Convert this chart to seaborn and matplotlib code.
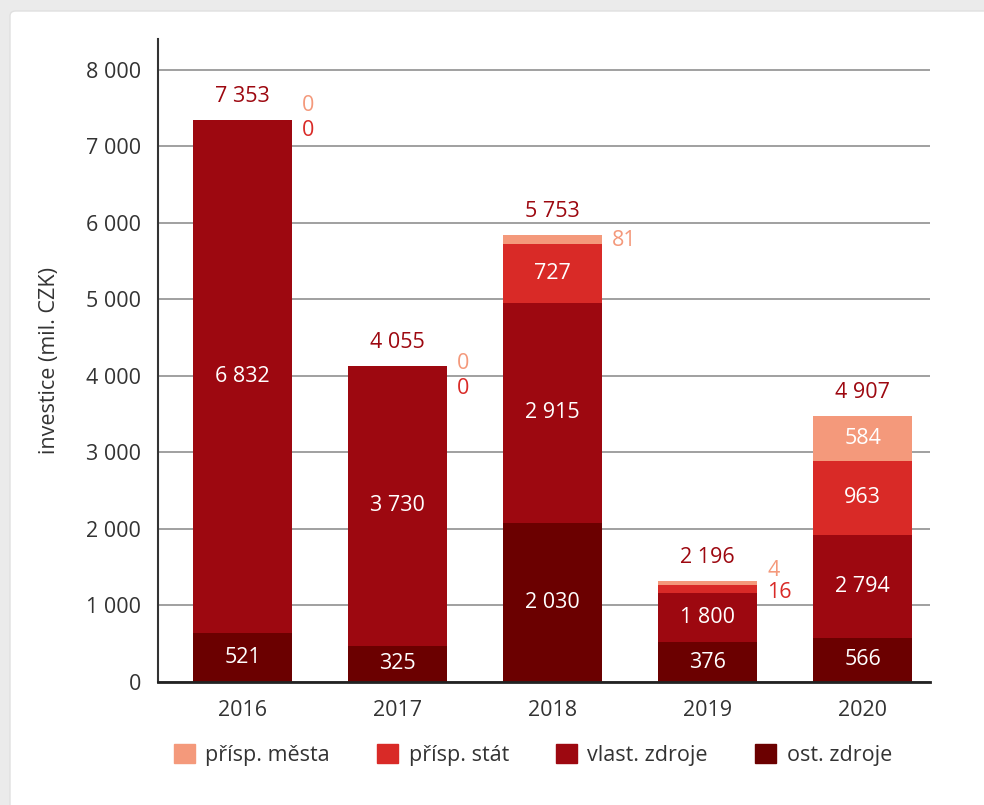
import matplotlib as mpl
mpl.use('Agg')
import matplotlib.pyplot as plt
import matplotlib.patches as mpatches
import seaborn as sns
import pandas as pd

sns.set_style('white')
mpl.rcParams['font.family'] = ['Open Sans', 'DejaVu Sans']

years = ['2016', '2017', '2018', '2019', '2020']
# bar segment heights as drawn in the chart
ost_h = [637, 472, 2079, 520, 576]
vlast_h = [6703, 3655, 2878, 642, 1345]
stat_h = [0, 0, 763, 104, 970]
mesta_h = [0, 0, 118, 53, 580]
# values printed on the chart
ost_lab = [521, 325, 2030, 376, 566]
vlast_lab = [6832, 3730, 2915, 1800, 2794]
stat_lab = [0, 0, 727, 16, 963]
mesta_lab = [0, 0, 81, 4, 584]
total_lab = [7353, 4055, 5753, 2196, 4907]

series_names = ['přísp. města', 'přísp. stát', 'vlast. zdroje', 'ost. zdroje']
colors = {'přísp. města': '#F4997B', 'přísp. stát': '#D92A27',
          'vlast. zdroje': '#9D0810', 'ost. zdroje': '#6B0000'}

df = pd.DataFrame({'year': years, 'ost': ost_h, 'vlast': vlast_h,
                   'stat': stat_h, 'mesta': mesta_h})
df['c1'] = df['ost']
df['c2'] = df['c1'] + df['vlast']
df['c3'] = df['c2'] + df['stat']
df['c4'] = df['c3'] + df['mesta']

fig = plt.figure(figsize=(9.84, 8.05), dpi=100, facecolor='#EBEBEB')
card = mpatches.FancyBboxPatch((10 / 984, -0.05), 1.1, 1 - 11 / 805 + 0.05,
                               boxstyle='round,pad=0,rounding_size=0.006',
                               transform=fig.transFigure, facecolor='white',
                               edgecolor='#E0E0E0', linewidth=1, zorder=-5)
fig.patches.append(card)

ax = fig.add_axes([158 / 984, 1 - 682 / 805, (930 - 158) / 984, (682 - 39) / 805])
ax.set_facecolor('none')
ax.set_zorder(2)

bw = 0.64
# overlapping cumulative bars, tallest first
for col, name in zip(['c4', 'c3', 'c2', 'c1'], series_names):
    sns.barplot(data=df, x='year', y=col, color=colors[name], width=bw,
                saturation=1, ax=ax, zorder=3, linewidth=0, edgecolor='none')

ax.set_xlim(-0.545, 4.435)
ax.set_ylim(0, 8400)
ax.set_yticks(range(0, 8001, 1000))
ax.set_yticklabels([f'{v:,}'.replace(',', ' ') for v in range(0, 8001, 1000)])
ax.yaxis.grid(True, color='#A0A0A0', linewidth=1.4, zorder=0)
ax.set_axisbelow(True)
ax.tick_params(axis='both', length=0, labelsize=15.5, colors='#333333')
ax.tick_params(axis='y', pad=12)
ax.tick_params(axis='x', pad=13)
ax.set_xlabel('')
ax.set_ylabel('investice (mil. CZK)', fontsize=15.5, color='#333333', labelpad=19)
for s in ['top', 'right']:
    ax.spines[s].set_visible(False)
ax.spines['left'].set_color('#333333')
ax.spines['left'].set_linewidth(1.5)
ax.spines['bottom'].set_color('#222222')
ax.spines['bottom'].set_linewidth(2)
ax.spines['bottom'].set_zorder(5)

fs = 15.5
px = 0.72  # points per pixel
# vertical offsets (px) of labels placed beside the bar top: (města, stát)
side_dy = {0: (15, -10), 1: (3, -22), 2: (-5, None), 3: (11, -11)}

for i in range(len(years)):
    bottoms = [0, df['c1'][i], df['c2'][i], df['c3'][i]]
    heights = [ost_h[i], vlast_h[i], stat_h[i], mesta_h[i]]
    labels = [ost_lab[i], vlast_lab[i], stat_lab[i], mesta_lab[i]]
    top = df['c4'][i]
    for j, (b, h, lab) in enumerate(zip(bottoms, heights, labels)):
        if h >= 300:
            ax.text(i, b + h / 2, f'{lab:,}'.replace(',', ' '), ha='center',
                    va='center', color='white', fontsize=fs, zorder=6)
    ax.annotate(f'{total_lab[i]:,}'.replace(',', ' '), (i, top),
                xytext=(0, 24 * px), textcoords='offset points', ha='center',
                va='center', color='#9D0810', fontsize=fs)
    if i in side_dy:
        dm, ds = side_dy[i]
        if mesta_h[i] < 300 and dm is not None:
            ax.annotate(f'{mesta_lab[i]}', (i + bw / 2, top),
                        xytext=(10 * px, dm * px), textcoords='offset points',
                        ha='left', va='center', color=colors['přísp. města'],
                        fontsize=fs)
        if stat_h[i] < 300 and ds is not None:
            ax.annotate(f'{stat_lab[i]}', (i + bw / 2, top),
                        xytext=(10 * px, ds * px), textcoords='offset points',
                        ha='left', va='center', color=colors['přísp. stát'],
                        fontsize=fs)

handles = [mpatches.Patch(color=colors[n], label=n) for n in series_names]
fig.legend(handles=handles, loc='center', bbox_to_anchor=(0.5417, 1 - 755 / 805),
           ncol=4, frameon=False, fontsize=fs, handlelength=0.95,
           handleheight=0.95, handletextpad=0.5, columnspacing=2.2,
           labelcolor='#333333')

fig.savefig('out.png', dpi=100, facecolor=fig.get_facecolor())
